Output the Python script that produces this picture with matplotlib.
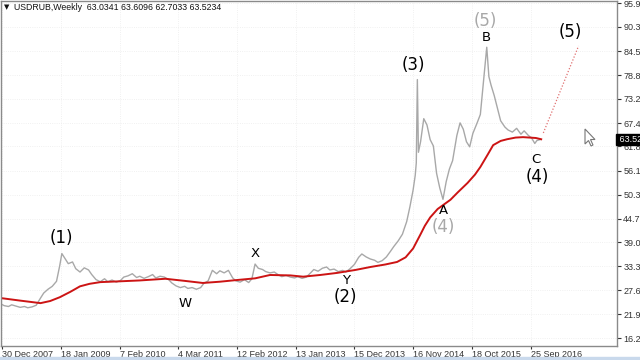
import matplotlib
matplotlib.use('Agg')
import matplotlib.pyplot as plt
from matplotlib.patches import Rectangle, Polygon
from matplotlib.transforms import blended_transform_factory

# weekly USDRUB closes (week index, price)
weeks = [1, 4, 8, 11, 15, 19, 23, 26, 30, 34, 38, 41, 45, 49, 53, 56, 58, 60, 64, 68,
         71, 75, 79, 83, 86, 90, 94, 98, 101, 105, 109, 113, 116, 120, 124, 128, 131, 135, 139, 143,
         146, 150, 154, 158, 161, 165, 169, 173, 176, 180, 184, 188, 191, 195, 199, 203, 206, 210, 214, 218,
         221, 225, 229, 233, 236, 239, 242, 246, 249, 253, 257, 261, 264, 268, 272, 276, 279, 283, 287, 291,
         294, 298, 302, 306, 309, 313, 317, 321, 324, 328, 332, 336, 339, 343, 347, 351, 354, 358, 362, 366,
         369, 373, 377, 381, 384, 387, 389, 390, 391, 392, 394, 397, 400, 403, 406, 409, 412, 415, 418, 421,
         424, 428, 431, 434, 437, 440, 443, 447, 450, 453, 456, 458, 460, 463, 466, 469, 473, 476, 480, 484,
         488, 491, 495, 498, 501, 503, 506]
close = [24.4, 24.0, 23.8, 24.2, 23.9, 23.6, 23.8, 23.5, 23.7, 24.1, 25.8, 27.0, 27.9, 28.6, 29.8, 33.5, 36.4, 35.6, 34.0, 34.4,
         32.8, 32.0, 33.0, 32.5, 31.4, 30.2, 29.7, 30.4, 29.7, 30.1, 29.6, 30.0, 30.8, 31.1, 31.6, 30.7, 31.0, 30.5, 30.9, 31.4,
         30.6, 31.0, 30.8, 30.2, 29.4, 28.7, 28.3, 28.6, 28.1, 28.3, 27.9, 28.3, 29.3, 29.9, 32.4, 31.6, 32.3, 31.8, 32.4, 30.6,
         29.9, 29.6, 30.2, 29.5, 30.4, 33.9, 32.9, 32.6, 32.1, 31.8, 32.0, 31.3, 30.9, 31.2, 30.8, 30.6, 30.9, 30.5, 30.8, 31.8,
         32.6, 32.2, 32.9, 33.2, 32.5, 32.7, 32.1, 32.4, 32.0, 32.8, 33.8, 35.5, 36.3, 35.6, 35.1, 34.8, 34.3, 34.7, 35.6, 37.0,
         38.1, 39.4, 41.0, 44.0, 47.5, 51.5, 55.0, 58.0, 77.8, 60.5, 63.0, 68.5, 67.0, 63.5, 62.0, 55.5, 52.0, 49.3, 53.5, 56.5,
         58.5, 64.5, 67.5, 66.0, 63.0, 61.8, 65.0, 67.5, 69.5, 77.5, 85.5, 78.5, 76.5, 74.0, 71.0, 68.0, 66.5, 65.8, 65.3, 66.2,
         64.8, 65.6, 64.5, 63.9, 62.6, 63.3, 63.5234]

# red moving average
ma_weeks = [1, 19, 38, 47, 56, 66, 75, 84, 94, 113, 131, 155, 173, 190, 206, 222, 239, 253, 272, 284,
            300, 316, 333, 347, 361, 372, 380, 387, 394, 398, 403, 410, 416, 422, 429, 438, 445, 450, 457, 462,
            469, 475, 483, 490, 502, 507]
ma = [25.8, 25.2, 24.6, 25.1, 26.0, 27.3, 28.6, 29.2, 29.6, 29.8, 30.0, 30.4, 29.9, 29.4, 29.7, 30.1, 30.5, 31.3, 31.2, 30.9,
      31.3, 31.8, 32.5, 33.2, 33.8, 34.4, 35.5, 37.6, 41.0, 43.0, 45.0, 47.0, 48.1, 49.2, 51.0, 53.2, 55.2, 57.0, 60.0, 62.2,
      63.2, 63.6, 64.0, 64.1, 63.9, 63.6]

# projected wave (5)
proj_weeks = [509, 542]
proj = [65.1, 85.8]

date_ticks = [2, 57, 112, 167, 222, 277, 332, 387, 442, 497]
date_labels = ['30 Dec 2007', '18 Jan 2009', '7 Feb 2010', '4 Mar 2011', '12 Feb 2012',
               '13 Jan 2013', '15 Dec 2013', '16 Nov 2014', '18 Oct 2015', '25 Sep 2016']
price_ticks = [95.99, 90.33, 84.55, 78.89, 73.24, 67.46, 61.88, 56.14, 50.37,
               44.71, 39.05, 33.39, 27.61, 21.95, 16.29]
last_price = 63.5234

# wave labels: text, week, price, colour, size
waves = [('(1)', 58, 40.1, 'k', 12), ('W', 173, 24.6, 'k', 9.5), ('X', 239, 36.3, 'k', 9.5),
         ('Y', 324, 30.0, 'k', 9.5), ('(2)', 324, 26.0, 'k', 12), ('(3)', 387, 81.2, 'k', 12),
         ('(5)', 455, 91.7, '#a8a8a8', 12), ('B', 456, 87.7, 'k', 9.5), ('(5)', 534, 89.1, 'k', 12),
         ('A', 415, 46.7, 'k', 9.5), ('(4)', 415, 42.7, '#a8a8a8', 12), ('C', 502, 58.9, 'k', 9.5),
         ('(4)', 503, 54.6, 'k', 12)]

fig = plt.figure(figsize=(6.4, 3.6), dpi=100)
fig.patch.set_facecolor('white')
ax = fig.add_axes([1/640, 14/360, 616/640, 345/360])

ax.plot(weeks, close, color='#a8a8a8', lw=1.0)
ax.plot(ma_weeks, ma, color='#cc1414', lw=1.4)
ax.plot(proj_weeks, proj, color='#e07070', lw=0.9, ls=(0, (1, 1.5)))

for txt, x, y, c, s in waves:
    ax.text(x, y, txt, color=c, fontsize=s, ha='center', va='center', family='DejaVu Sans')

ax.set_xlim(1, 578)
ax.set_ylim(14.4, 96.5)
ax.set_xticks(date_ticks)
ax.set_xticklabels(date_labels, ha='left', family='Liberation Sans')
ax.yaxis.tick_right()
ax.set_yticks(price_ticks)
ax.set_yticklabels(['%.2f' % p for p in price_ticks], family='Liberation Sans')
ax.tick_params(axis='x', labelsize=6.5, length=2.5, pad=0.5, colors='#333333')
ax.tick_params(axis='y', labelsize=6.5, length=3, pad=1.5, colors='#333333')
ax.grid(True, color='#ececec', ls=':', lw=0.6)
for sp in ax.spines.values():
    sp.set_color('#8a8a8a')
    sp.set_linewidth(1)

# current price tag
tr = blended_transform_factory(ax.transAxes, ax.transData)
ax.text(1.0, last_price, ' 63.5234', transform=tr, fontsize=6.5, color='white',
        family='Liberation Sans', ha='left', va='center',
        bbox=dict(boxstyle='square,pad=0.1', fc='black', ec='black'))

fig.text(4/640, 1 - 7/360, '\u25bc', fontsize=5, va='center', ha='left', color='#111111')
fig.text(14/640, 1 - 7/360, 'USDRUB,Weekly  63.0341 63.6096 62.7033 63.5234', fontsize=6.3,
         family='Liberation Sans', va='center', ha='left', color='#111111')

# mouse pointer left on the screenshot
cur = [(0, 0), (0, 15), (3.5, 11.5), (6, 17), (8, 16), (5.5, 10.5), (10, 10.5)]
fig.patches.append(Polygon([((585 + px) / 640, 1 - (129 + py) / 360) for px, py in cur],
                           closed=True, transform=fig.transFigure, fc='white', ec='#777777', lw=0.8))

fig.patches.append(Rectangle((0, 0), 1, 3/360, transform=fig.transFigure, color='#c9d9ec'))

fig.savefig('out.png', dpi=100)
